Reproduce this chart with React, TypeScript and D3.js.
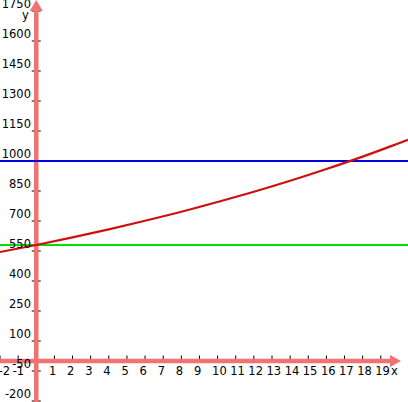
import React from "react";
import * as d3 from "d3";

const W = 408;
const H = 402;

// x / y domains
const xDomain = [-2, 20.5];
const yDomain = [-205, 1805];

const xTicks = [-2, -1, 1, 2, 3, 4, 5, 6, 7, 8, 9, 10, 11, 12, 13, 14, 15, 16, 17, 18, 19];
const yTicks = [-200, -50, 100, 250, 400, 550, 700, 850, 1000, 1150, 1300, 1450, 1600, 1750];

// red curve samples
const curveX = [-2, 0, 2, 4, 6, 8, 10, 12, 14, 16, 18, 20, 20.5];
const curveY = [545, 580, 618, 658, 701, 746, 795, 846, 901, 960, 1022, 1089, 1106];

// horizontal lines
const blueLevel = [1000];
const greenLevel = [580];

export default function App() {
  const x = d3.scaleLinear().domain(xDomain).range([0, W]);
  const y = d3.scaleLinear().domain(yDomain).range([H, 0]);
  const x0 = x(0);
  const y0 = y(0);
  const axisColor = "#f07272";
  const font = "DejaVu Sans, Verdana, sans-serif";

  const pts: [number, number][] = curveX.map((v, i) => [v, curveY[i]]);
  const line = d3
    .line<[number, number]>()
    .x((d) => x(d[0]))
    .y((d) => y(d[1]))
    .curve(d3.curveMonotoneX);

  return (
    <svg
      width={W}
      height={H}
      style={{ position: "absolute", left: 0, top: 0, background: "#fff" }}
    >
      {/* y ticks */}
      {yTicks.map((t) => (
        <line key={"yt" + t} x1={x0 - 4.5} x2={x0 + 4.5} y1={y(t)} y2={y(t)} stroke="#000" strokeWidth={1} />
      ))}
      {/* x ticks */}
      {xTicks.map((t) => (
        <line key={"xt" + t} x1={x(t)} x2={x(t)} y1={y0 - 5.5} y2={y0} stroke="#000" strokeWidth={1} />
      ))}

      {/* axes */}
      <line x1={x0} x2={x0} y1={9} y2={H} stroke={axisColor} strokeWidth={4.5} />
      <path d={`M${x0},0 L${x0 - 6.5},11 L${x0 + 6.5},11 Z`} fill={axisColor} />
      <line x1={0} x2={391} y1={y0} y2={y0} stroke={axisColor} strokeWidth={4.5} />
      <path d={`M401,${y0} L390,${y0 - 6} L390,${y0 + 6} Z`} fill={axisColor} />

      {/* horizontal lines */}
      {blueLevel.map((v) => (
        <line key={"b" + v} x1={0} x2={W} y1={y(v)} y2={y(v)} stroke="#0000dd" strokeWidth={2} />
      ))}
      {greenLevel.map((v) => (
        <line key={"g" + v} x1={0} x2={W} y1={y(v)} y2={y(v)} stroke="#00e000" strokeWidth={2} />
      ))}

      {/* red curve */}
      <path d={line(pts) || ""} fill="none" stroke="#cc1010" strokeWidth={2.2} />

      {/* y labels */}
      {yTicks.map((t) => (
        <text key={"yl" + t} x={31} y={y(t) - 3.5} textAnchor="end" fontFamily={font} fontSize={11.5} fill="#000">
          {t}
        </text>
      ))}
      {/* x labels */}
      {xTicks.map((t) => (
        <text key={"xl" + t} x={Math.max(x(t) - 5.5, -1.5)} y={y0 + 14} textAnchor="start" fontFamily={font} fontSize={11.5} fill="#000">
          {t}
        </text>
      ))}
      <text x={391} y={375} fontFamily={font} fontSize={11.5} fill="#000">x</text>
      <text x={22} y={19} fontFamily={font} fontSize={11.5} fill="#000">y</text>
    </svg>
  );
}
